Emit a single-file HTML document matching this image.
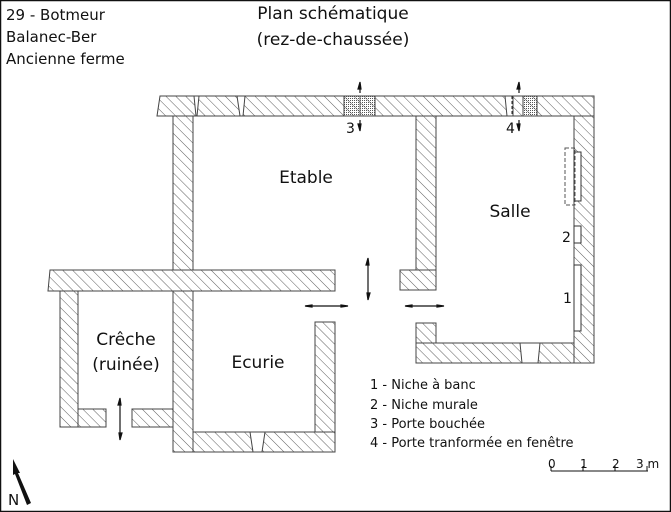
<!DOCTYPE html>
<html><head><meta charset="utf-8"><style>
html,body{margin:0;padding:0;background:#fff}
svg{display:block}
text{font-family:"DejaVu Sans","Liberation Sans",sans-serif;fill:#111}
</style></head><body>
<svg width="671" height="512" viewBox="0 0 671 512" xmlns="http://www.w3.org/2000/svg">
<defs>
<pattern id="h" patternUnits="userSpaceOnUse" width="7" height="7" patternTransform="rotate(-45)">
<line x1="0" y1="0" x2="0" y2="7" stroke="#333" stroke-width="0.8"/>
</pattern>
<pattern id="d" patternUnits="userSpaceOnUse" width="2" height="2">
<rect width="1" height="1" fill="#555"/>
</pattern>
</defs>
<rect x="0.5" y="0.5" width="670" height="511" fill="#fff" stroke="#111" stroke-width="1.5"/>
<g fill="url(#h)" stroke="#444" stroke-width="1">
<!-- top wall -->
<polygon points="160,96 594,96 594,116 157,116"/>
<!-- right outer wall -->
<rect x="574" y="116" width="20" height="247"/>
<!-- salle bottom wall -->
<rect x="416" y="343" width="158" height="20"/>
<rect x="416" y="323" width="20" height="20"/>
<!-- interior wall etable/salle -->
<rect x="416" y="116" width="20" height="154"/>
<rect x="400" y="270" width="36" height="20"/>
<!-- etable left wall -->
<rect x="173" y="116" width="20" height="154"/>
<!-- horizontal wall -->
<polygon points="50,270 335,270 335,291 48,291"/>
<!-- etable/ecurie wall lower -->
<rect x="173" y="291" width="20" height="161"/>
<!-- ecurie bottom -->
<rect x="193" y="432" width="142" height="20"/>
<rect x="315" y="322" width="20" height="110"/>
<!-- creche -->
<rect x="60" y="291" width="18" height="136"/>
<rect x="78" y="409" width="28" height="18"/>
<rect x="132" y="409" width="41" height="18"/>
</g>
<!-- gaps / openings -->
<g fill="#fff" stroke="#444" stroke-width="1">
<polygon points="194,96 199,96 197,116 196,116"/>
<polygon points="237,96 245,96 243,116 240,116"/>
<polygon points="505,96 513,96 513,116 507,116"/>
<polygon points="520,343 540,343 538,363 522,363"/>
<polygon points="250,432 265,432 262,452 253,452"/>
</g>
<line x1="512" y1="96" x2="512" y2="116" stroke="#222" stroke-dasharray="3,2"/>
<g fill="url(#d)" stroke="#444" stroke-width="1">
<rect x="344" y="96" width="31" height="20"/>
<rect x="523" y="96" width="14" height="20"/>
</g>
<line x1="360" y1="96" x2="360" y2="116" stroke="#666"/>
<!-- niches -->
<g fill="#fff" stroke="#333" stroke-width="1">
<rect x="574" y="152" width="7" height="49"/>
<rect x="574" y="226" width="7" height="17"/>
<rect x="574" y="265" width="7" height="66"/>
</g>
<rect x="565" y="148" width="10" height="57" fill="none" stroke="#555" stroke-dasharray="4,2"/>
<!-- arrows -->
<g stroke="#111" stroke-width="1.2" fill="#111">
<line x1="360" y1="84" x2="360" y2="93"/><polygon points="358,89 360,82 361,89"/>
<line x1="360" y1="120" x2="360" y2="129"/><polygon points="358,124 360,131 361,124"/>
<line x1="519" y1="84" x2="519" y2="93"/><polygon points="517,89 519,82 520,89"/>
<line x1="519" y1="120" x2="519" y2="129"/><polygon points="517,124 519,131 520,124"/>
<line x1="368" y1="260" x2="368" y2="298"/><polygon points="366,265 368,258 369,265"/><polygon points="367,293 368,300 370,293"/>
<line x1="306" y1="306" x2="346" y2="306"/><polygon points="312,305 305,306 312,307"/><polygon points="341,305 348,306 341,307"/>
<line x1="406" y1="306" x2="442" y2="306"/><polygon points="412,305 405,306 412,307"/><polygon points="437,305 444,306 437,307"/>
<line x1="120" y1="400" x2="120" y2="438"/><polygon points="118,405 120,398 121,405"/><polygon points="119,433 120,440 122,433"/>
</g>
<!-- north arrow -->
<polygon points="13,459 20,473 18,473 31,503 27,505 15,474 13,475" fill="#111"/>
<text x="8" y="505" font-size="15">N</text>
<!-- scale -->
<g stroke="#111" stroke-width="1">
<line x1="551" y1="471" x2="648" y2="471"/>
<line x1="551" y1="466" x2="551" y2="471"/>
<line x1="583" y1="466" x2="583" y2="471"/>
<line x1="615" y1="466" x2="615" y2="471"/>
<line x1="647" y1="466" x2="647" y2="471"/>
</g>
<g font-size="12">
<text x="548" y="468">0</text><text x="580" y="468">1</text><text x="612" y="468">2</text><text x="636" y="468">3 m</text>
</g>
<!-- labels -->
<g font-size="15">
<text x="6" y="20">29 - Botmeur</text>
<text x="6" y="42">Balanec-Ber</text>
<text x="6" y="64">Ancienne ferme</text>
</g>
<g font-size="17" text-anchor="middle">
<text x="333" y="19">Plan schématique</text>
<text x="333" y="45">(rez-de-chaussée)</text>
</g>
<g font-size="17" text-anchor="middle">
<text x="306" y="183">Etable</text>
<text x="510" y="217">Salle</text>
<text x="126" y="345">Crêche</text>
<text x="126" y="370">(ruinée)</text>
<text x="258" y="368">Ecurie</text>
</g>
<g font-size="14">
<text x="346" y="133">3</text>
<text x="506" y="133">4</text>
<text x="562" y="242">2</text>
<text x="563" y="303">1</text>
</g>
<g font-size="13">
<text x="370" y="389">1 - Niche à banc</text>
<text x="370" y="409">2 - Niche murale</text>
<text x="370" y="428">3 - Porte bouchée</text>
<text x="370" y="447">4 - Porte tranformée en fenêtre</text>
</g>
</svg>
</body></html>
